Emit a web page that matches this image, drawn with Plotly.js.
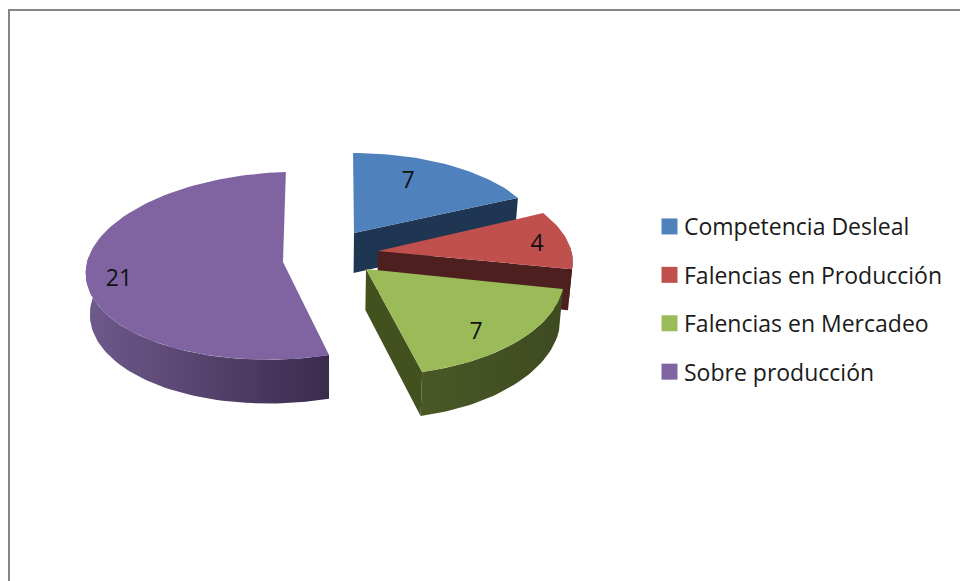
<!DOCTYPE html>
<html><head><meta charset="utf-8">
<script src="https://cdn.plot.ly/plotly-3.0.1.min.js"></script>
<style>html,body{margin:0;padding:0;background:#fff}#c{width:960px;height:581px}</style>
</head><body><div id="c"></div>
<script>
// chart data
const categories = ["Competencia Desleal","Falencias en Producción","Falencias en Mercadeo","Sobre producción"];
const values = [7,4,7,21];
const topColors = ["#4f81bd","#c0504d","#9bbb59","#8064a2"];
const FONT = '"Open Sans", sans-serif';

// view settings of the tilted, exploded 3D pie (applied to every slice)
const view = [
  {ax:354,ay:233,rx:185,ry:83.2,sx:1,ty:0},
  {ax:378,ay:251,rx:193.3,ry:90,sx:15.5,ty:0},
  {ax:366,ay:269,rx:198,ry:102,sx:6.8,ty:-0.5},
  {ax:283,ay:262,rx:197,ry:93.6,sx:-3,ty:-6}
];
const labelAt = [[408,182],[537,245],[476,333],[119,280]];
const wallColors = [["#1f3653","#1f3653"],["#4d1f1e","#4d1f1e"],["#4a5826","#3e4a20"],["#6f5a8c","#3a2b4d"]];
const persp = 0.04, vanishX = 330;

const total = values.reduce((a,b)=>a+b,0);
let cum = 0;
const slices = values.map((v,i)=>{const s={t0:cum/total*2*Math.PI,t1:(cum+v)/total*2*Math.PI,i};cum+=v;return s;});

function rim(g,t){
  const a=Math.sin(t), b=-Math.cos(t), s=1/(1-persp*b);
  return [g.ax+(g.rx*a+g.sx*b)*s, g.ay+(g.ry*b+g.ty*a)*s];
}
function drop(p){ return [p[0]-(p[0]-vanishX)*0.017, p[1]+33+0.03*p[1]]; }
function arc(g,t0,t1){
  const n=Math.max(4,Math.ceil((t1-t0)/0.03)), out=[];
  for(let k=0;k<=n;k++) out.push(rim(g,t0+(t1-t0)*k/n));
  return out;
}
function poly(pts,extra){
  return Object.assign({type:'scatter',mode:'lines',x:pts.map(p=>p[0]),y:pts.map(p=>p[1]),
    fill:'toself',line:{width:0},showlegend:false,hoverinfo:'skip'},extra);
}
function wallStyle(i,pts){
  const xs=pts.map(p=>p[0]);
  return {fillgradient:{type:'horizontal',start:Math.min(...xs),stop:Math.max(...xs),
    colorscale:[[0,wallColors[i][0]],[1,wallColors[i][1]]]}};
}
// only the part of the rim that faces the viewer gets a wall
const frontFrom = Math.PI/2-0.05, frontTo = 3*Math.PI/2+0.12;
const traces=[];
// back to front: purple first, then blue, red, green
[3,0,1,2].forEach(i=>{
  const sl=slices[i], g=view[i], A=[g.ax,g.ay];
  const rimPts=arc(g,sl.t0,sl.t1);
  const w0=Math.max(sl.t0,frontFrom), w1=Math.min(sl.t1,frontTo);
  if(w1>w0){
    const up=arc(g,w0,w1);
    const wallPts=up.concat(up.map(drop).reverse());
    traces.push(poly(wallPts,wallStyle(i,wallPts)));
  }
  const end=rimPts[rimPts.length-1];
  const cut=[A,end,drop(end),drop(A)];
  if(i!==3){ traces.push(poly(cut,{fillcolor:i===2?"#43511f":wallColors[i][0]})); }
  traces.push(poly([A].concat(rimPts),{fillcolor:topColors[i]}));
});
// value labels
traces.push({type:'scatter',mode:'text',x:labelAt.map(p=>p[0]),y:labelAt.map(p=>p[1]),
  text:values.map(String),textposition:'middle center',
  textfont:{family:FONT,size:23,color:'#111'},showlegend:false,hoverinfo:'skip'});
// legend entries
categories.forEach((c,i)=>traces.push({type:'scatter',mode:'markers',x:[null],y:[null],name:c,legendgroup:'g'+i,
  marker:{symbol:'square',size:16,color:topColors[i]}}));

const layout={
  width:960,height:581,margin:{l:0,r:0,t:0,b:0},paper_bgcolor:'#fff',plot_bgcolor:'#fff',
  xaxis:{range:[0,960],visible:false,fixedrange:true},
  yaxis:{range:[581,0],visible:false,fixedrange:true},
  shapes:[{type:'rect',xref:'x',yref:'y',x0:9,y0:10,x1:975,y1:600,line:{color:'#868686',width:2},layer:'below'}],
  showlegend:true,
  legend:{x:644/960,y:1-205/581,xanchor:'left',yanchor:'top',bgcolor:'rgba(0,0,0,0)',
    font:{family:FONT,size:23,color:'#1a1a1a'},tracegroupgap:15.5,traceorder:'grouped'}
};
Plotly.newPlot('c',traces,layout,{displayModeBar:false,staticPlot:true}).then(()=>{
  // the reference keeps its legend swatches closer to the text
  document.querySelectorAll('#c .legend .legendsymbols').forEach(el=>el.setAttribute('transform','translate(5.5,0)'));
});
</script></body></html>
